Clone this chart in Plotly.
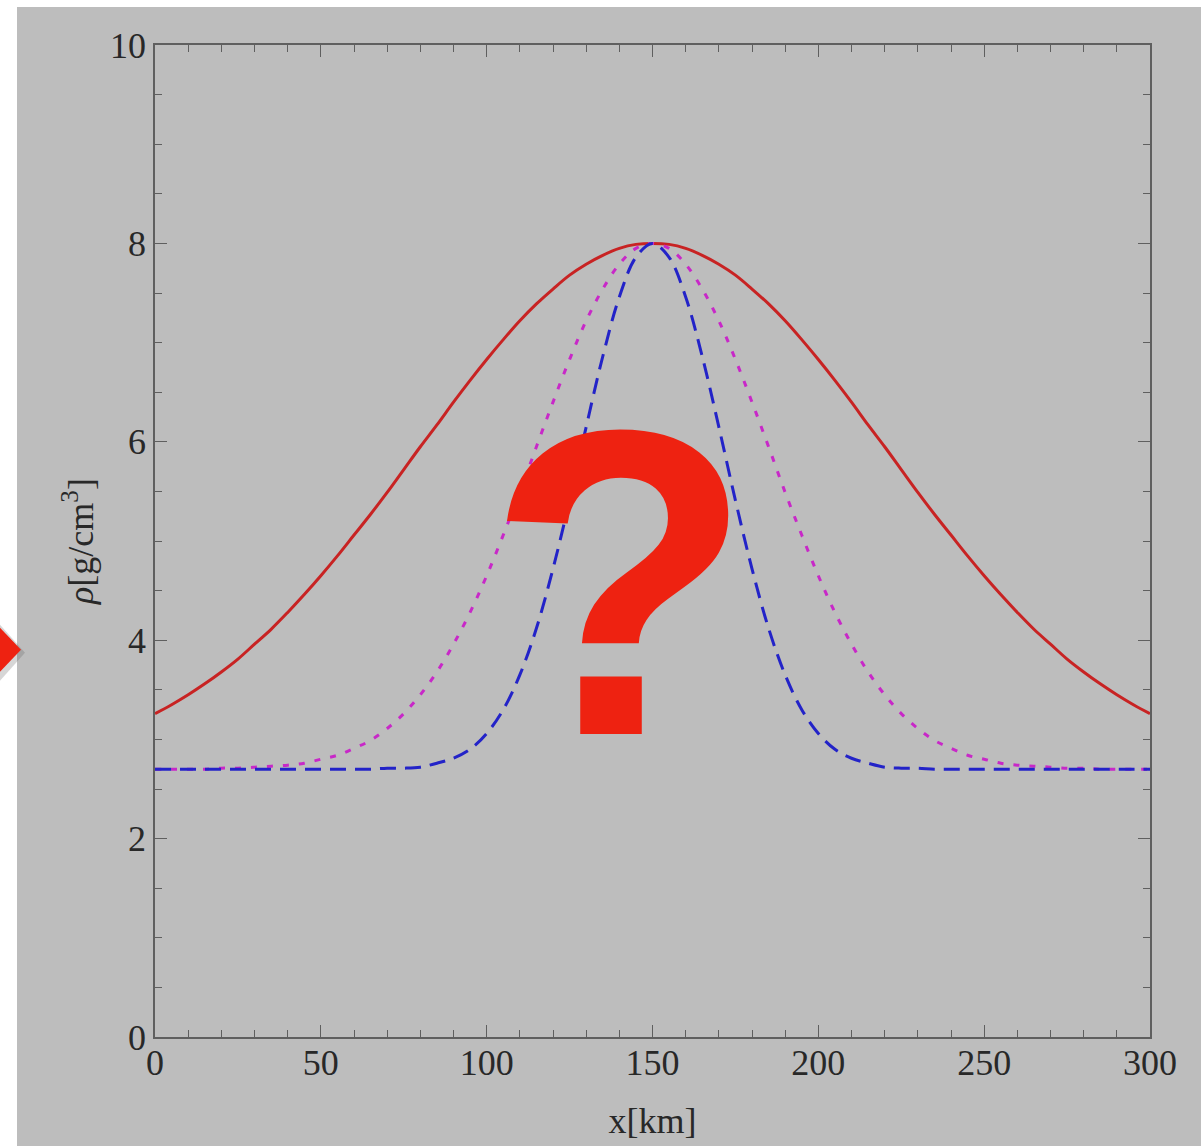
import plotly.graph_objects as go

# x positions (km)
x_km = [i * 5 for i in range(61)]

# values, x = 0..150 (curves are symmetric about 150 km)
red_half = [3.26, 3.35, 3.45, 3.56, 3.68, 3.81, 3.96, 4.11, 4.28, 4.46, 4.65, 4.85,
            5.06, 5.27, 5.49, 5.72, 5.95, 6.17, 6.40, 6.62, 6.83, 7.03, 7.22, 7.39,
            7.54, 7.68, 7.79, 7.88, 7.95, 7.99, 8.00]
magenta_half = [2.70, 2.70, 2.70, 2.70, 2.71, 2.71, 2.72, 2.73, 2.74, 2.76, 2.80, 2.84,
                2.91, 2.99, 3.11, 3.26, 3.45, 3.68, 3.96, 4.28, 4.65, 5.06, 5.49, 5.95,
                6.40, 6.83, 7.22, 7.54, 7.79, 7.95, 8.00]
blue_half = [2.70, 2.70, 2.70, 2.70, 2.70, 2.70, 2.70, 2.70, 2.70, 2.70, 2.70, 2.70,
             2.70, 2.70, 2.71, 2.71, 2.72, 2.76, 2.81, 2.90, 3.06, 3.30, 3.65, 4.12,
             4.72, 5.41, 6.15, 6.86, 7.46, 7.86, 8.00]

red_vals = red_half + red_half[-2::-1]
magenta_vals = magenta_half + magenta_half[-2::-1]
blue_vals = blue_half + blue_half[-2::-1]

x_tick_vals = [0, 50, 100, 150, 200, 250, 300]
y_tick_vals = [0, 2, 4, 6, 8, 10]

BG = "rgb(189,189,189)"
FRAME = "rgb(95,95,95)"
TXT = "rgb(40,40,40)"
SERIF = "Liberation Serif, Times New Roman, serif"

fig = go.Figure()
fig.add_trace(go.Scatter(x=x_km, y=red_vals, mode="lines", line_shape="spline",
                         line=dict(color="rgb(200,35,35)", width=3), showlegend=False))
fig.add_trace(go.Scatter(x=x_km, y=magenta_vals, mode="lines", line_shape="spline",
                         line=dict(color="rgb(200,40,200)", width=3, dash="6px,10px"),
                         showlegend=False))
fig.add_trace(go.Scatter(x=x_km, y=blue_vals, mode="lines", line_shape="spline",
                         line=dict(color="rgb(35,35,200)", width=3, dash="16px,9px"),
                         showlegend=False))

axis_common = dict(
    showgrid=False, zeroline=False, showline=True, linecolor=FRAME, linewidth=1.6,
    mirror="allticks", ticks="inside", ticklen=12, tickwidth=1.3, tickcolor=FRAME,
    tickfont=dict(family=SERIF, size=36, color=TXT),
)

fig.update_xaxes(**axis_common, range=[0, 300], tickvals=x_tick_vals,
                 ticklabelstandoff=-7,
                 minor=dict(dtick=10, ticks="inside", ticklen=7, tickwidth=1.2, tickcolor=FRAME),
                 title=dict(text="x[km]", font=dict(family=SERIF, size=36, color=TXT), standoff=26))
fig.update_yaxes(**axis_common, range=[0, 10], tickvals=y_tick_vals,
                 minor=dict(dtick=0.5, ticks="inside", ticklen=7, tickwidth=1.2, tickcolor=FRAME),
                 title=dict(text="<i>ρ</i>[g/cm<sup>3</sup>]",
                            font=dict(family=SERIF, size=36, color=TXT), standoff=5))

def px_x(p):
    return (p - 155) / 995.0

def px_y(p):
    return (1039 - p) / 994.0

shapes = [
    # white strips at left and top edge of the screenshot
    dict(type="rect", xref="paper", yref="paper", x0=px_x(-10), x1=px_x(17),
         y0=px_y(1200), y1=px_y(-10), fillcolor="white", line=dict(width=0), layer="above"),
    dict(type="rect", xref="paper", yref="paper", x0=px_x(-10), x1=px_x(1210),
         y0=px_y(7), y1=px_y(-10), fillcolor="white", line=dict(width=0), layer="above"),
    # shadow of arrow tip
    dict(type="path", xref="paper", yref="paper",
         path=f"M {px_x(0)},{px_y(626)} L {px_x(25)},{px_y(654)} L {px_x(0)},{px_y(682)} Z",
         fillcolor="rgba(90,90,90,0.25)", line=dict(width=0), layer="above"),
    # red arrow tip
    dict(type="path", xref="paper", yref="paper",
         path=f"M {px_x(0)},{px_y(629)} L {px_x(21)},{px_y(651)} L {px_x(0)},{px_y(673)} Z",
         fillcolor="rgb(238,34,17)", line=dict(width=0), layer="above"),
]

fig.update_layout(
    width=1201, height=1146,
    margin=dict(l=155, r=51, t=45, b=107, pad=0),
    paper_bgcolor=BG, plot_bgcolor=BG,
    shapes=shapes,
    annotations=[dict(
        text="<b>?</b>", x=140.2, y=4.58, xref="x", yref="y", showarrow=False,
        font=dict(family="Liberation Sans, Arial, sans-serif", size=436, color="rgb(238,34,17)"),
        xanchor="center", yanchor="middle",
    )],
)

fig.write_html("out.html")
